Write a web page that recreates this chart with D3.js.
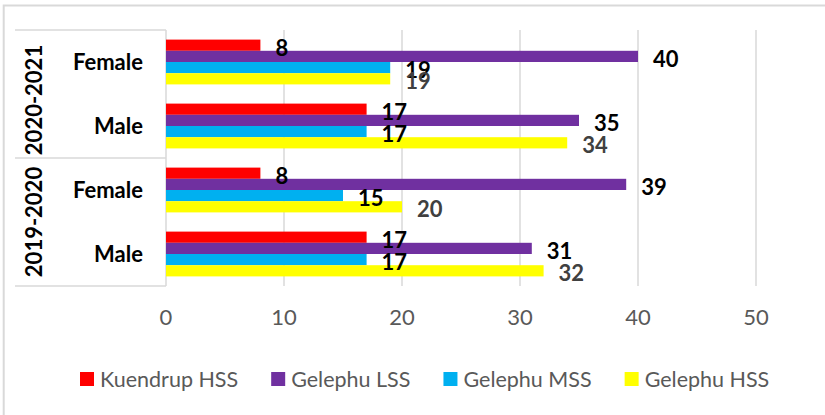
<!DOCTYPE html>
<html>
<head>
<meta charset="utf-8">
<script src="https://cdn.jsdelivr.net/npm/d3@7"></script>
<style>
  body { margin: 0; background: #fff; }
  text { font-family: Lato, "Noto Sans", sans-serif; }
  .tick-label { fill: #595959; font-size: 22px; }
  .legend-label { fill: #595959; font-size: 21.5px; }
  .cat-label { fill: #000; font-size: 22px; font-weight: bold; }
  .data-label { font-size: 22px; font-weight: bold; }
</style>
</head>
<body>
<div id="chart"></div>
<script>
// categories, top to bottom
const years = ["2020-2021", "2019-2020"];
const genders = ["Female", "Male"];
const schools = ["Kuendrup HSS", "Gelephu LSS", "Gelephu MSS", "Gelephu HSS"];
const colors = ["#ff0000", "#7030a0", "#00b0f0", "#ffff00"];
const labelColors = ["#000000", "#000000", "#000000", "#404040"];

// values per school, in order: 2020-2021 Female, 2020-2021 Male, 2019-2020 Female, 2019-2020 Male
const kuendrupHSS = [8, 17, 8, 17];
const gelephuLSS = [40, 35, 39, 31];
const gelephuMSS = [19, 17, 15, 17];
const gelephuHSS = [19, 34, 20, 32];
const seriesValues = [kuendrupHSS, gelephuLSS, gelephuMSS, gelephuHSS];

const xTicks = [0, 10, 20, 30, 40, 50];

const width = 825;
const height = 415;
const plot = { left: 166, right: 756, top: 30, bottom: 286 };

const svg = d3
  .select("#chart")
  .append("svg")
  .attr("width", width)
  .attr("height", height);

// chart border (runs off the right/bottom edge like the source)
svg
  .append("rect")
  .attr("x", 3.7)
  .attr("y", 5.5)
  .attr("width", 900)
  .attr("height", 500)
  .attr("fill", "none")
  .attr("stroke", "#d9d9d9")
  .attr("stroke-width", 2);

const categories = [];
years.forEach((y) => genders.forEach((g) => categories.push(`${y}|${g}`)));

const x = d3.scaleLinear().domain([0, 50]).range([plot.left, plot.right]);
const y = d3
  .scaleBand()
  .domain(categories)
  .range([plot.top, plot.bottom])
  .paddingInner(0.3)
  .paddingOuter(0.15);
const ySub = d3
  .scaleBand()
  .domain(schools)
  .range([0, y.bandwidth()]);

// gridlines
svg
  .append("g")
  .selectAll("line")
  .data(xTicks.slice(1))
  .join("line")
  .attr("x1", (d) => x(d))
  .attr("x2", (d) => x(d))
  .attr("y1", plot.top)
  .attr("y2", plot.bottom)
  .attr("stroke", "#d9d9d9")
  .attr("stroke-width", 1.5);

// tick labels
svg
  .append("g")
  .selectAll("text")
  .data(xTicks)
  .join("text")
  .attr("class", "tick-label")
  .attr("x", (d) => x(d))
  .attr("y", 317)
  .attr("dy", "0.36em")
  .attr("text-anchor", "middle")
  .text((d) => d);

// multi level category axis box
const boxLeft = 15;
const yearEdges = [plot.top, (y(categories[1]) + y.bandwidth() + y(categories[2])) / 2, plot.bottom];
const axisG = svg.append("g").attr("stroke", "#d9d9d9").attr("stroke-width", 1.5);
axisG
  .selectAll("line.h")
  .data(yearEdges)
  .join("line")
  .attr("class", "h")
  .attr("x1", boxLeft)
  .attr("x2", plot.left)
  .attr("y1", (d) => d)
  .attr("y2", (d) => d);
axisG
  .append("line")
  .attr("x1", plot.left)
  .attr("x2", plot.left)
  .attr("y1", plot.top)
  .attr("y2", plot.bottom);

// category labels
svg
  .append("g")
  .selectAll("text")
  .data(categories)
  .join("text")
  .attr("class", "cat-label")
  .attr("x", 143)
  .attr("y", (d) => y(d) + y.bandwidth() / 2)
  .attr("dy", "0.36em")
  .attr("text-anchor", "end")
  .text((d) => d.split("|")[1]);

// year labels (top one sits a little low in the source)
const yearNudge = [6, 0];
svg
  .append("g")
  .selectAll("text")
  .data(years)
  .join("text")
  .attr("class", "cat-label")
  .attr("transform", (d, i) => `translate(34,${(yearEdges[i] + yearEdges[i + 1]) / 2 + yearNudge[i]}) rotate(-90)`)
  .attr("dy", "0.36em")
  .attr("text-anchor", "middle")
  .text((d) => d);

// bars
const rows = [];
categories.forEach((c, ci) => {
  schools.forEach((s, si) => {
    rows.push({ cat: c, school: s, si: si, value: seriesValues[si][ci] });
  });
});

svg
  .append("g")
  .selectAll("rect")
  .data(rows)
  .join("rect")
  .attr("x", x(0))
  .attr("y", (d) => y(d.cat) + ySub(d.school))
  .attr("width", (d) => x(d.value) - x(0))
  .attr("height", ySub.bandwidth())
  .attr("fill", (d) => colors[d.si]);

// data labels
svg
  .append("g")
  .selectAll("text")
  .data(rows)
  .join("text")
  .attr("class", "data-label")
  .attr("x", (d) => x(d.value) + 15)
  .attr("y", (d) => y(d.cat) + ySub(d.school) + ySub.bandwidth() / 2 + 2.5)
  .attr("dy", "0.36em")
  .attr("fill", (d) => labelColors[d.si])
  .text((d) => d.value);

// legend
const legend = svg.append("g");
const swatch = 14;
const gap = 6;
const itemGap = 33;
let lx = 0;
schools.forEach((s, i) => {
  const item = legend.append("g").attr("transform", `translate(${lx},0)`);
  item
    .append("rect")
    .attr("x", 0)
    .attr("y", 372)
    .attr("width", swatch)
    .attr("height", swatch)
    .attr("fill", colors[i]);
  const t = item
    .append("text")
    .attr("class", "legend-label")
    .attr("x", swatch + gap)
    .attr("y", 379)
    .attr("dy", "0.36em")
    .text(s);
  lx += swatch + gap + t.node().getComputedTextLength() + itemGap;
});
legend.attr("transform", "translate(80,0)");
</script>
</body>
</html>
